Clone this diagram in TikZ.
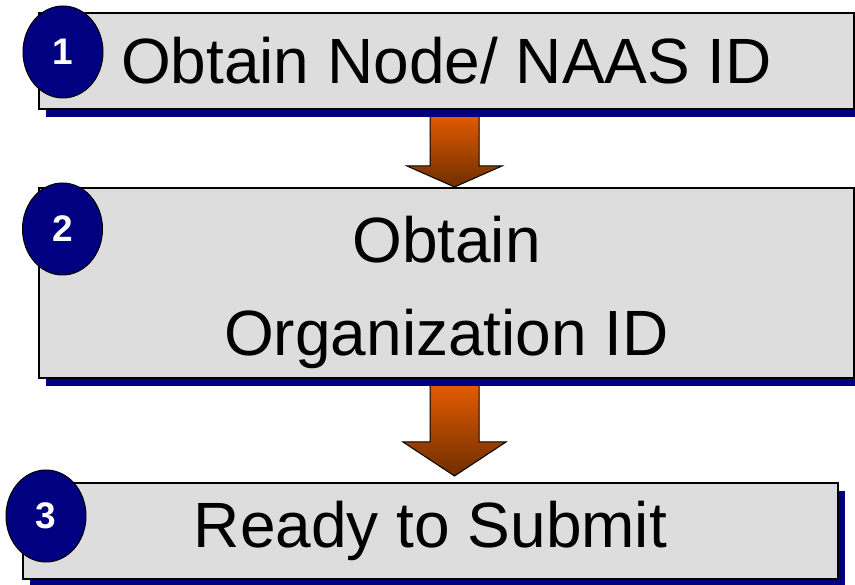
\documentclass[tikz,border=0pt]{standalone}
\usepackage{fontspec}
\setmainfont{Liberation Sans}
\usetikzlibrary{shapes.geometric,shadows,calc}

\definecolor{boxgray}{HTML}{DDDDDD}
\definecolor{navyblue}{HTML}{000080}
\definecolor{arrowtop}{HTML}{E85D00}
\definecolor{arrowbot}{HTML}{6E2E00}

\tikzset{
  stepbox/.style={draw=black, line width=1.5pt, fill=boxgray, inner sep=0pt,
    minimum width=815pt, minimum height=96pt, align=center,
    font=\fontsize{64}{93}\selectfont,
    drop shadow={shadow xshift=7pt, shadow yshift=-8pt, fill=navyblue, opacity=1}},
  steptext/.style={inner sep=0pt, align=center, font=\fontsize{64}{93}\selectfont},
  stepnum/.style={ellipse, draw=black, line width=1pt, fill=navyblue, inner sep=0pt,
    minimum width=80pt, minimum height=92pt, text=white,
    font=\fontsize{37}{37}\selectfont\bfseries},
  flow/.style={top color=arrowtop, bottom color=arrowbot, draw=black, line width=1pt}
}

% block arrow from (#1) down to (#2), head depth #3, head half width #4
\newcommand{\flowarrow}[4]{%
  \path[flow] let \p1=(#1), \p2=(#2) in
    (\x1-24.5pt,\y1) -- (\x1+24.5pt,\y1) -- (\x1+24.5pt,\y2+#3) -- (\x1+#4,\y2+#3)
    -- (\x1,\y2) -- (\x1-#4,\y2+#3) -- (\x1-24.5pt,\y2+#3) -- cycle;
}

\begin{document}
\begin{tikzpicture}[x=1pt, y=-1pt]
\useasboundingbox (0,0) rectangle (855,585);

% Arrows (behind the boxes)
\coordinate (a1top) at (454.5,112);
\coordinate (a1tip) at (454.5,187);
\coordinate (a2top) at (454.5,382);
\coordinate (a2tip) at (454.5,476);
\flowarrow{a1top}{a1tip}{21pt}{47.5pt}
\flowarrow{a2top}{a2tip}{34pt}{51.5pt}

% Boxes
\node[stepbox] (box1) at (446.5,61) {Obtain Node/ NAAS ID};
\node[stepbox, minimum height=190pt] (box2) at (446.5,283) {};
\node[steptext] (box2text) at ($(box2.center)+(0,9)$) {Obtain\\Organization ID};
\node[stepbox] (box3) at (430.5,531) {Ready to Submit};

% Numbers
\node[stepnum] (num1) at (63,52) {1};
\node[stepnum] (num2) at (62.5,229) {2};
\node[stepnum] (num3) at (46,516) {3};
\end{tikzpicture}
\end{document}
